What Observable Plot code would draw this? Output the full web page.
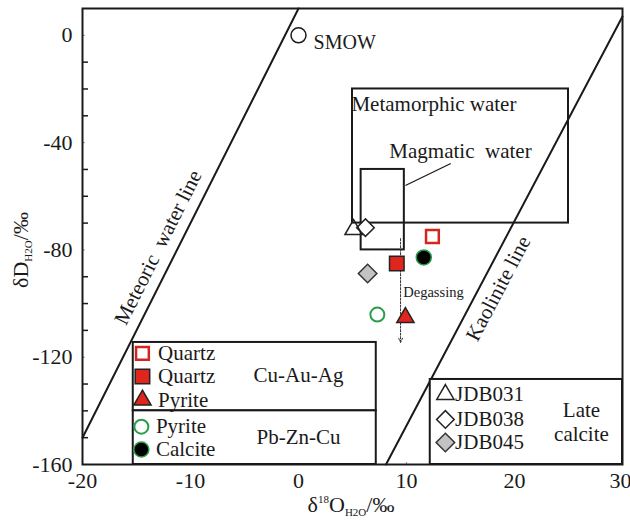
<!DOCTYPE html>
<html><head><meta charset="utf-8">
<script src="https://cdn.jsdelivr.net/npm/d3@7"></script>
<script src="https://cdn.jsdelivr.net/npm/@observablehq/plot@0.6"></script>
<style>body{margin:0;background:#fff}</style>
</head><body><div id="chart"></div>
<script>
// ---- data ----
const groups = ["quartzOpen","quartzFilled","pyriteCu","pyritePb","calcite","JDB038","JDB031","JDB045"];
const d18O   = [12.4, 9.1, 9.9, 7.3, 11.6, 6.2, 5.1, 6.4];
const dD     = [-75.0, -85.1, -105.2, -104.1, -82.8, -71.7, -72.4, -88.8];

const smowX = [0], smowY = [0];
const meteoricX = [-20, 0];            // δD = 8 δ18O + 10
const kaoliniteX = [8.1, 30];
const kaoliniteY = [-160, 7];
const metamorphicBox = [5, 25, -70, -20];  // x1,x2,y1,y2
const magmaticBox = [5.8, 9.8, -80, -50];
const degassingY = [-75.8, -114.5];
const degassingX = 9.45;

const xLabels = [-20, -10, 0, 10, 20, 30];
const yLabels = [0, -40, -80, -120, -160];
const xMinor = [-15, -5, 5, 15, 25];
const yMinor = [-10,-20,-30,-50,-60,-70,-90,-100,-110,-130,-140,-150];

const cuLegend = [["quartzOpen","Quartz"],["quartzFilled","Quartz"],["pyriteCu","Pyrite"]];
const pbLegend = [["pyritePb","Pyrite"],["calcite","Calcite"]];
const lateLegend = [["JDB031","JDB031"],["JDB038","JDB038"],["JDB045","JDB045"]];

// ---- styles ----
const RED = "#e0251d", GREEN = "#2b9e4a";
const sty = {
  quartzOpen:   {symbol:"square",   fill:"white",   stroke:"#d2261e", strokeWidth:2.5, r:7.2, rotate:0},
  quartzFilled: {symbol:"square",   fill:RED,       stroke:"#222",    strokeWidth:1.5, r:8.2, rotate:0},
  pyriteCu:     {symbol:"triangle", fill:RED,       stroke:"#222",    strokeWidth:1.5, r:6.4, rotate:0},
  pyritePb:     {symbol:"circle",   fill:"white",   stroke:GREEN,     strokeWidth:2,   r:7,   rotate:0},
  calcite:      {symbol:"circle",   fill:"black",   stroke:GREEN,     strokeWidth:1.5, r:7.5, rotate:0},
  JDB031:       {symbol:"triangle", fill:"none",    stroke:"#222",    strokeWidth:1.5, r:6.4, rotate:0},
  JDB038:       {symbol:"square",   fill:"white",   stroke:"#222",    strokeWidth:1.5, r:7,   rotate:45},
  JDB045:       {symbol:"square",   fill:"#c3c3c3", stroke:"#333",    strokeWidth:1.5, r:7.4, rotate:45}
};
const FONT = "Liberation Serif, Times New Roman, serif";
const INK = "#1a1a1a";

function dotMark(g, x, y) {
  const s = sty[g];
  return Plot.dot([0], {x: () => x, y: () => y, symbol: s.symbol, fill: s.fill, stroke: s.stroke,
    strokeWidth: s.strokeWidth, r: s.r, rotate: s.rotate});
}

const marks = [];
// inner ticks
marks.push(Plot.tickX(xMinor, {x: d => d, insetTop: 450, stroke: INK, strokeWidth: 1.5}));
marks.push(Plot.tickX(xLabels, {x: d => d, insetTop: 454, stroke: "#999", strokeWidth: 1}));
marks.push(Plot.tickY(yMinor, {y: d => d, insetRight: 534, stroke: INK, strokeWidth: 1.5}));
marks.push(Plot.tickY(yLabels, {y: d => d, insetRight: 537, stroke: "#999", strokeWidth: 1}));

// reference lines
marks.push(Plot.line(meteoricX.map(x => [x, 8 * x + 10]), {stroke: INK, strokeWidth: 2}));
marks.push(Plot.line(kaoliniteX.map((x, i) => [x, kaoliniteY[i]]), {stroke: INK, strokeWidth: 2}));

// fields
marks.push(Plot.rect([metamorphicBox], {x1: d => d[0], x2: d => d[1], y1: d => d[2], y2: d => d[3], fill: "none", stroke: INK, strokeWidth: 2}));
marks.push(Plot.rect([magmaticBox], {x1: d => d[0], x2: d => d[1], y1: d => d[2], y2: d => d[3], fill: "none", stroke: INK, strokeWidth: 2}));
marks.push(Plot.link([0], {x1: magmaticBox[1] + 0.1, y1: -56, x2: 14.1, y2: -47.8, stroke: INK, strokeWidth: 1.2}));

// degassing arrow
marks.push(Plot.arrow([0], {x1: degassingX, y1: degassingY[0], x2: degassingX, y2: degassingY[1],
  stroke: "#333", strokeWidth: 1, strokeDasharray: "2,1.5", headLength: 7, headAngle: 50}));

// SMOW
marks.push(Plot.dot(smowX.map((x, i) => [x, smowY[i]]), {x: d => d[0], y: d => d[1], r: 7.5, stroke: INK, strokeWidth: 1.5, fill: "white"}));

// labels
const textBase = {fontFamily: FONT, fill: INK, fontSize: 21};
marks.push(Plot.text(["SMOW"], {...textBase, fontSize: 20, x: 1.4, y: -2.8, text: d => d, textAnchor: "start"}));
marks.push(Plot.text(["Metamorphic water"], {...textBase, x: 4.9, y: -25.8, text: d => d, textAnchor: "start"}));
marks.push(Plot.text(["Magmatic  water"], {...textBase, x: 15, y: -43.3, text: d => d, textAnchor: "middle"}));
marks.push(Plot.text(["Degassing"], {...textBase, fontSize: 14.5, x: 9.7, y: -95.9, text: d => d, textAnchor: "start"}));
marks.push(Plot.text(["Meteoric  water line"], {...textBase, x: -13.0, y: -79.1, text: d => d, rotate: -63.3}));
marks.push(Plot.text(["Kaolinite line"], {...textBase, x: 18.5, y: -94.4, text: d => d, rotate: -62.3}));

// data points
groups.forEach((g, i) => marks.push(dotMark(g, d18O[i], dD[i])));

// legend boxes
const legLeft = [-15.3, 7.2], legTop = -114.5, legMid = -140, legRight = [12.2, 30], legRTop = -128.3;
marks.push(Plot.rect([0], {x1: legLeft[0], x2: legLeft[1], y1: legMid, y2: legTop, fill: "white", stroke: INK, strokeWidth: 2}));
marks.push(Plot.rect([0], {x1: legLeft[0], x2: legLeft[1], y1: -160, y2: legMid, fill: "white", stroke: INK, strokeWidth: 2}));
marks.push(Plot.rect([0], {x1: legRight[0], x2: legRight[1], y1: -160, y2: legRTop, fill: "white", stroke: INK, strokeWidth: 2}));

const cuRows = [-118.6, -127.2, -136.0];
const pbRows = [-145.9, -154.4];
const lateRows = [-133.9, -143.2, -151.8];
cuLegend.forEach(([g, t], i) => {
  marks.push(dotMark(g, -14.45, cuRows[i]));
  marks.push(Plot.text([t], {...textBase, x: -13.0, y: cuRows[i], text: d => d, textAnchor: "start"}));
});
pbLegend.forEach(([g, t], i) => {
  marks.push(dotMark(g, -14.55, pbRows[i]));
  marks.push(Plot.text([t], {...textBase, x: -13.2, y: pbRows[i], text: d => d, textAnchor: "start"}));
});
lateLegend.forEach(([g, t], i) => {
  marks.push(dotMark(g, 13.6, lateRows[i]));
  marks.push(Plot.text([t], {...textBase, x: 14.5, y: lateRows[i], text: d => d, textAnchor: "start"}));
});
marks.push(Plot.text(["Cu-Au-Ag"], {...textBase, x: 0, y: -126.8, text: d => d}));
marks.push(Plot.text(["Pb-Zn-Cu"], {...textBase, x: 0, y: -150, text: d => d}));
marks.push(Plot.text(["Late"], {...textBase, x: 26.2, y: -139.6, text: d => d}));
marks.push(Plot.text(["calcite"], {...textBase, x: 26.2, y: -148.7, text: d => d}));

// frame & axes
marks.push(Plot.frame({stroke: INK, strokeWidth: 2}));
marks.push(Plot.axisX({ticks: xLabels.slice(0, -1), tickSize: 0, tickPadding: 8, label: null, tickFormat: d => String(d), fontSize: 22, fontFamily: FONT}));
marks.push(Plot.axisX({ticks: xLabels.slice(-1), tickSize: 0, tickPadding: 8, label: null, tickFormat: d => String(d), fontSize: 22, fontFamily: FONT, textAnchor: "end", dx: 9}));
marks.push(Plot.axisY({ticks: yLabels, tickSize: 0, tickPadding: 10, label: null, tickFormat: d => String(d), fontSize: 22, fontFamily: FONT}));

const svg = Plot.plot({
  width: 630, height: 521,
  marginLeft: 82, marginRight: 8, marginTop: 8, marginBottom: 57,
  x: {domain: [-20, 30]},
  y: {domain: [-160, 10]},
  style: {fontFamily: FONT, fontSize: "21px", color: INK, background: "white"},
  marks
});

// axis titles with sub/superscripts
const s = d3.select(svg);
const yt = s.append("text").attr("transform", "translate(28,250) rotate(-90)")
  .attr("text-anchor", "middle").attr("font-family", FONT).attr("font-size", 22).attr("fill", INK);
yt.append("tspan").text("δD");
yt.append("tspan").attr("font-size", 11).attr("dy", 4).text("H2O");
yt.append("tspan").attr("dy", -4).text("/‰");

const xt = s.append("text").attr("transform", "translate(351,512)")
  .attr("text-anchor", "middle").attr("font-family", FONT).attr("font-size", 22).attr("fill", INK);
xt.append("tspan").text("δ");
xt.append("tspan").attr("font-size", 11).attr("dy", -9).text("18");
xt.append("tspan").attr("dy", 9).text("O");
xt.append("tspan").attr("font-size", 11).attr("dy", 4).text("H2O");
xt.append("tspan").attr("dy", -4).text("/‰");

document.getElementById("chart").appendChild(svg);
</script>
</body></html>
